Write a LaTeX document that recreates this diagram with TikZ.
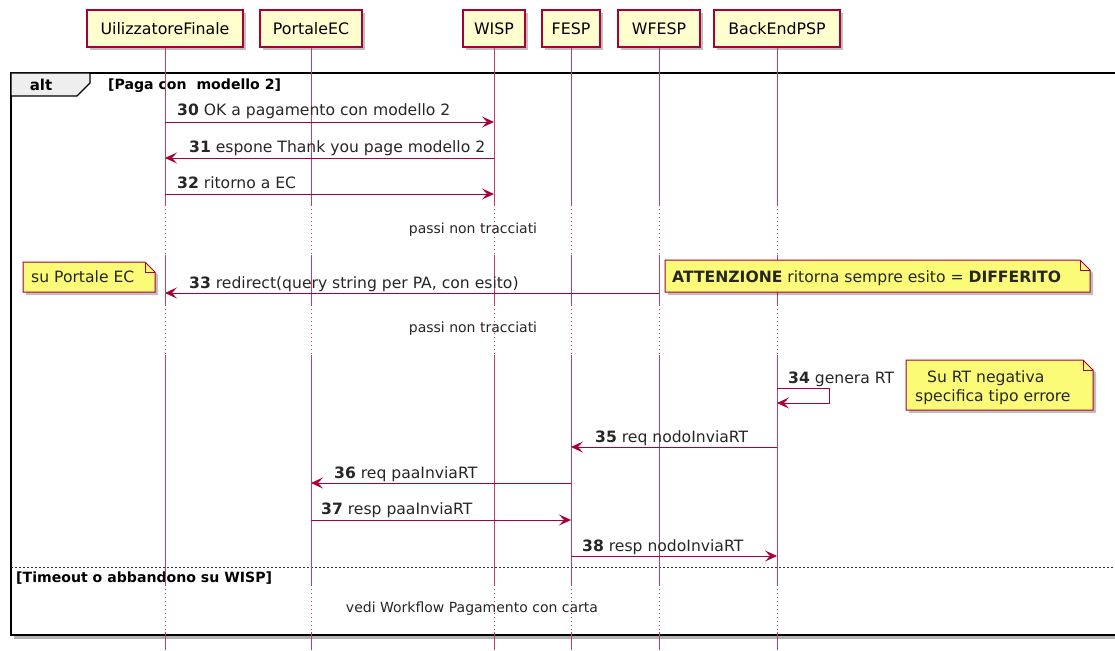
\documentclass[tikz,border=0pt]{standalone}
\usepackage{fontspec}
\setmainfont{DejaVu Sans}
\usetikzlibrary{arrows.meta,shadows}
\definecolor{pborder}{HTML}{A80036}
\definecolor{pfill}{HTML}{FEFECE}
\definecolor{nfill}{HTML}{FBFB77}
\definecolor{tabfill}{HTML}{EEEEEE}
\tikzset{
  shad/.style={drop shadow={shadow xshift=3pt,shadow yshift=-3pt,fill=black,opacity=.25}},
  part/.style={draw=pborder,fill=pfill,line width=1.1pt,minimum height=37pt,inner sep=0pt,
    font=\fontsize{15.8}{18}\selectfont,shad},
  life/.style={draw=pborder!75,line width=1pt},
  lifedot/.style={draw=pborder!75,line width=1pt,dash pattern=on 1pt off 3pt},
  msg/.style={draw=pborder,line width=1pt,-{Stealth[length=12pt,width=11pt,inset=5pt]}},
  mlabel/.style={font=\fontsize{15.6}{18}\selectfont,anchor=base west,inner sep=0pt,text=black!85},
  gap/.style={font=\fontsize{14}{16}\selectfont,inner sep=0pt,text=black!85},
  notebox/.style={draw=pborder,fill=nfill,line width=1pt,shad},
  notetext/.style={font=\fontsize{15.6}{18}\selectfont,inner sep=0pt,text=black!85},
  grp/.style={font=\bfseries\fontsize{14.1}{16}\selectfont,inner sep=0pt,anchor=base west},
}
\begin{document}
\begin{tikzpicture}[x=1pt,y=-1pt]
\clip (0,0) rectangle (1115,650);
\fill[white] (0,0) rectangle (1115,650);
% frame
\path[fill=white,draw=black,line width=2pt,drop shadow={shadow xshift=3pt,shadow yshift=-4pt,fill=black,opacity=.3}]
  (11,73) rectangle (1130,635);
\path[fill=tabfill,draw=black,line width=1.2pt] (11,73) -- (90,73) -- (90,83) -- (77,96) -- (11,96) -- cycle;
\node[font=\bfseries\fontsize{15}{17}\selectfont,inner sep=0pt] (alt) at (41,85) {alt};
\node[grp] (g1) at (108,90) {[Paga con\ \ modello 2]};
\draw[black!80,line width=0.8pt,dash pattern=on 2pt off 2pt] (11,567) -- (1130,567);
\node[grp] (g2) at (16,582) {[Timeout o abbandono su WISP]};
% participants
\node[part,minimum width=156pt] (U) at (165,28.5) {UilizzatoreFinale};
\node[part,minimum width=102pt] (P) at (311,28.5) {PortaleEC};
\node[part,minimum width=62pt] (W) at (494,28.5) {WISP};
\node[part,minimum width=58pt] (F) at (571,28.5) {FESP};
\node[part,minimum width=82pt] (WF) at (659,28.5) {WFESP};
\node[part,minimum width=126pt] (B) at (777,28.5) {BackEndPSP};
% row coordinates
\foreach \n/\y in {a/47,b/205,c/255,d/305,e/355,f/585,g/632,h/650}{\coordinate (y\n) at (0,\y);}
\foreach \p in {U,P,W,F,WF,B}{
  \draw[life] (\p.south) -- (\p |- yb);
  \draw[lifedot] (\p |- yb) -- (\p |- yc);
  \draw[life] (\p |- yc) -- (\p |- yd);
  \draw[lifedot] (\p |- yd) -- (\p |- ye);
  \draw[life] (\p |- ye) -- (\p |- yf);
  \draw[lifedot] (\p |- yf) -- (\p |- yg);
  \draw[life] (\p |- yg) -- (\p |- yh);
}
% messages
\coordinate (r30) at (0,122);
\coordinate (r31) at (0,158);
\coordinate (r32) at (0,194);
\coordinate (r33) at (0,293);
\coordinate (r35) at (0,447);
\coordinate (r36) at (0,483);
\coordinate (r37) at (0,520);
\coordinate (r38) at (0,556);
\draw[msg] (U |- r30) -- (W |- r30);
\node[mlabel] (l30) at (177,115) {\textbf{30} OK a pagamento con modello 2};
\draw[msg] (W |- r31) -- (U |- r31);
\node[mlabel] (l31) at (189,152) {\textbf{31} espone Thank you page modello 2};
\draw[msg] (U |- r32) -- (W |- r32);
\node[mlabel] (l32) at (177,188) {\textbf{32} ritorno a EC};
\node[gap] (p1) at (473,230) {passi non tracciati};
\draw[msg] (WF |- r33) -- (U |- r33);
\node[mlabel] (l33) at (189,288) {\textbf{33} redirect(query string per PA, con esito)};
\node[gap] (p2) at (473,329) {passi non tracciati};
% self message 34
\coordinate (s1) at (829,388);
\coordinate (s2) at (829,403);
\coordinate (r34a) at (0,388);
\coordinate (r34b) at (0,403);
\draw[msg] (B |- r34a) -- (s1) -- (s2) -- (B |- r34b);
\node[mlabel] (l34) at (788,383) {\textbf{34} genera RT};
\draw[msg] (B |- r35) -- (F |- r35);
\node[mlabel] (l35) at (595,442) {\textbf{35} req nodoInviaRT};
\draw[msg] (F |- r36) -- (P |- r36);
\node[mlabel] (l36) at (334,478) {\textbf{36} req paaInviaRT};
\draw[msg] (P |- r37) -- (F |- r37);
\node[mlabel] (l37) at (321,514) {\textbf{37} resp paaInviaRT};
\draw[msg] (F |- r38) -- (B |- r38);
\node[mlabel] (l38) at (582,551) {\textbf{38} resp nodoInviaRT};
\node[gap] (p3) at (472,609) {vedi Workflow Pagamento con carta};
% notes
\path[notebox] (23,262) -- (145,262) -- (155,272) -- (155,292) -- (23,292) -- cycle;
\draw[pborder,line width=1pt] (145,262) -- (145,272) -- (155,272);
\node[notetext,anchor=base west] (n1) at (31,282) {su Portale EC};
\path[notebox] (665,260) -- (1080,260) -- (1090,270) -- (1090,292) -- (665,292) -- cycle;
\draw[pborder,line width=1pt] (1080,260) -- (1080,270) -- (1090,270);
\node[notetext,anchor=base west] (n2) at (672,282) {\textbf{ATTENZIONE} ritorna sempre esito = \textbf{DIFFERITO}};
\path[notebox] (906,360) -- (1083,360) -- (1093,370) -- (1093,410) -- (906,410) -- cycle;
\draw[pborder,line width=1pt] (1083,360) -- (1083,370) -- (1093,370);
\node[notetext,anchor=base west] (n3a) at (927,382) {Su RT negativa};
\node[notetext,anchor=base west] (n3b) at (915,401) {specifica tipo errore};
\end{tikzpicture}
\end{document}
